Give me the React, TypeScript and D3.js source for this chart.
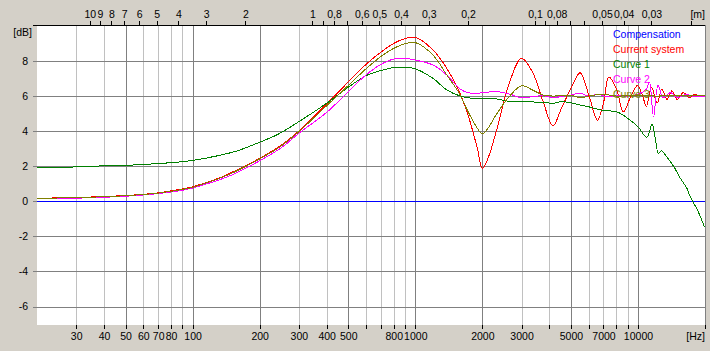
import React from "react";
import * as d3 from "d3";

// ---- data ----
const compF = [20, 20000];
const compDb = [0, 0];

const currentF = [20, 30, 40, 50, 60, 70, 80, 90, 100, 130, 150, 200, 250, 300, 400, 500, 600, 700, 800, 900, 1000, 1200, 1385, 1575, 1725, 1900, 2000, 2120, 2330, 2640, 3000, 3354, 3750, 4150, 4530, 5000, 5500, 6000, 6580, 7000, 7400, 8000, 8600, 9300, 9950, 10500, 10900, 11500, 12200, 12800, 13500, 14200, 15000, 16000, 17000, 18000, 19000, 20000];
const currentDb = [0.17, 0.22, 0.27, 0.33, 0.4, 0.48, 0.6, 0.7, 0.83, 1.3, 1.65, 2.45, 3.2, 4.0, 5.55, 6.8, 7.8, 8.5, 9.0, 9.28, 9.35, 8.63, 7.58, 6.25, 4.92, 3.02, 1.88, 2.45, 4.16, 6.73, 8.15, 7.39, 5.68, 4.3, 5.3, 6.44, 7.33, 6.1, 4.63, 5.6, 7.1, 6.4, 5.1, 6.0, 6.6, 6.0, 5.4, 6.5, 5.6, 6.4, 5.8, 6.3, 5.8, 6.2, 5.9, 6.1, 5.95, 6.05];

const curve1F = [20, 30, 35, 50, 70, 90, 100, 130, 158, 200, 240, 300, 400, 500, 600, 700, 800, 900, 1000, 1200, 1385, 1575, 1725, 2000, 2330, 2640, 3000, 3750, 4150, 4530, 5000, 5500, 6000, 7000, 8000, 9000, 10000, 10950, 11570, 12000, 12350, 12800, 13200, 14500, 15500, 16600, 17100, 18500, 19870];
const curve1Db = [1.94, 1.96, 2.0, 2.05, 2.15, 2.26, 2.33, 2.6, 2.87, 3.37, 3.8, 4.54, 5.59, 6.5, 7.16, 7.45, 7.62, 7.64, 7.55, 7.01, 6.35, 6.02, 5.9, 5.87, 5.83, 5.7, 5.68, 5.64, 5.59, 5.68, 5.62, 5.49, 5.39, 5.17, 5.11, 4.73, 4.25, 3.65, 4.39, 3.49, 2.74, 2.88, 2.68, 1.97, 1.31, 0.74, 0.3, -0.5, -1.45];

const curve2F = [20, 30, 40, 50, 60, 70, 80, 90, 100, 130, 150, 200, 250, 300, 400, 500, 600, 700, 800, 900, 1000, 1200, 1385, 1575, 1725, 1900, 2000, 2330, 2640, 3000, 3354, 3750, 4150, 4530, 5000, 5500, 6000, 6600, 7300, 8000, 9000, 10000, 10900, 11250, 11750, 12300, 13000, 14000, 15000, 16500, 18000, 20000];
const curve2Db = [0.15, 0.18, 0.23, 0.29, 0.36, 0.44, 0.53, 0.63, 0.76, 1.2, 1.5, 2.31, 3.05, 3.88, 5.07, 6.25, 7.2, 7.8, 8.11, 8.15, 8.05, 7.77, 7.2, 6.44, 6.19, 6.16, 6.19, 6.25, 6.12, 5.9, 5.96, 6.02, 5.9, 5.98, 6.06, 6.16, 6.0, 6.1, 5.95, 6.05, 6.0, 6.1, 6.4, 6.8, 4.82, 6.6, 5.9, 6.2, 5.9, 6.1, 5.95, 6.0];

const curve3F = [20, 30, 40, 50, 60, 70, 80, 90, 100, 130, 150, 200, 250, 300, 400, 500, 600, 700, 800, 900, 1000, 1200, 1385, 1575, 1725, 1900, 2000, 2120, 2330, 2640, 3000, 3354, 3750, 4150, 5000, 5500, 6000, 7000, 8000, 10000, 12000, 15000, 20000];
const curve3Db = [0.17, 0.21, 0.26, 0.32, 0.39, 0.47, 0.57, 0.68, 0.8, 1.28, 1.6, 2.42, 3.15, 3.97, 5.45, 6.6, 7.55, 8.25, 8.72, 8.98, 9.05, 8.34, 7.2, 6.16, 5.11, 4.16, 3.84, 4.16, 5.02, 5.96, 6.59, 6.35, 6.06, 6.0, 6.05, 5.9, 6.0, 6.1, 6.0, 6.05, 6.0, 6.05, 6.05];

const seriesNames = ["Compensation", "Current system", "Curve 1", "Curve 2", "Curve 3"];
const seriesColors = ["#0000ff", "#ff0000", "#008000", "#ff00ff", "#808000"];

const yTicks = [-6, -4, -2, 0, 2, 4, 6, 8];
const freqTicks = [30, 40, 50, 60, 70, 80, 90, 100, 200, 300, 400, 500, 600, 700, 800, 900, 1000, 2000, 3000, 4000, 5000, 6000, 7000, 8000, 9000, 10000, 20000];
const freqLabels = [30, 40, 50, 60, 70, 80, 100, 200, 300, 400, 500, 800, 1000, 2000, 3000, 5000, 7000, 10000];
const majorFreqs = [50, 100, 200, 500, 1000, 2000, 5000, 10000, 20000];
const meterTicks = [10, 9, 8, 7, 6, 5, 4, 3, 2, 1, 0.9, 0.8, 0.7, 0.6, 0.5, 0.4, 0.3, 0.2, 0.1, 0.09, 0.08, 0.07, 0.06, 0.05, 0.04, 0.03, 0.02];
const meterLabels = [10, 9, 8, 7, 6, 5, 4, 3, 2, 1, 0.8, 0.6, 0.5, 0.4, 0.3, 0.2, 0.1, 0.08, 0.05, 0.04, 0.03];
const SOUND_SPEED = 345;

export default function App() {
  const W = 710, H = 351;
  const L = 37, R = 705, T = 25, B = 325;
  const x = d3.scaleLog().domain([20, 20000]).range([L, R]);
  const y = d3.scaleLinear().domain([-7.05, 10.05]).range([B, T]);
  const font = "'Liberation Sans', Arial, sans-serif";
  const fs = 10.5;

  const series = [
    [compF, compDb],
    [currentF, currentDb],
    [curve1F, curve1Db],
    [curve2F, curve2Db],
    [curve3F, curve3Db],
  ];
  const line = d3
    .line<[number, number]>()
    .x((d) => x(d[0]))
    .y((d) => y(d[1]))
    .curve(d3.curveCatmullRom.alpha(0.5));

  const fmtM = (m: number) => String(m).replace(".", ",");

  return (
    <svg width={W} height={H} style={{ position: "absolute", left: 0, top: 0 }} fontFamily={font} fontSize={fs}>
      <rect x={0} y={0} width={W} height={H} fill="#d4d0c8" />
      <rect x={L} y={T} width={R - L} height={B - T} fill="#ffffff" />
      <defs>
        <clipPath id="plotclip">
          <rect x={L} y={T} width={R - L + 1} height={B - T} />
        </clipPath>
      </defs>
      {/* vertical grid */}
      {freqTicks.map((f) => (
        <line key={"vg" + f} x1={Math.round(x(f)) + 0.5} x2={Math.round(x(f)) + 0.5} y1={T} y2={B}
          stroke={majorFreqs.includes(f) ? "#808080" : "#c0c0c0"} shapeRendering="crispEdges" />
      ))}
      {/* horizontal grid */}
      {yTicks.map((v) => (
        <line key={"hg" + v} x1={L - 4} x2={R} y1={Math.round(y(v)) + 0.5} y2={Math.round(y(v)) + 0.5}
          stroke="#808080" shapeRendering="crispEdges" />
      ))}
      {/* top border */}
      <line x1={L - 4} x2={R} y1={T + 0.5} y2={T + 0.5} stroke="#000" shapeRendering="crispEdges" />
      {/* curves */}
      <g clipPath="url(#plotclip)">
        {series.map(([fs_, db], i) => (
          <path key={"s" + i}
            d={line((fs_ as number[]).map((f, j) => [f, (db as number[])[j]]) as [number, number][]) || ""}
            fill="none" stroke={seriesColors[i]} strokeWidth={1} shapeRendering="crispEdges" />
        ))}
      </g>
      {/* y labels */}
      {yTicks.map((v) => (
        <text key={"yl" + v} x={28} y={y(v)} dy="0.36em" textAnchor="end" fill="#000">{v}</text>
      ))}
      <text x={32} y={36} textAnchor="end" fill="#000">[dB]</text>
      {/* bottom ticks */}
      {freqTicks.map((f) => (
        <line key={"bt" + f} x1={Math.round(x(f)) + 0.5} x2={Math.round(x(f)) + 0.5} y1={B} y2={B + 4}
          stroke="#000" shapeRendering="crispEdges" />
      ))}
      {freqLabels.map((f) => (
        <text key={"bl" + f} x={x(f) + 0.5} y={340} textAnchor="middle" fill="#000">{f}</text>
      ))}
      <text x={705} y={340} textAnchor="end" fill="#000">[Hz]</text>
      {/* top ticks */}
      {meterTicks.map((m) => {
        const px = Math.round(x(SOUND_SPEED / m)) + 0.5;
        return <line key={"tt" + m} x1={px} x2={px} y1={T - 4} y2={T} stroke="#000" shapeRendering="crispEdges" />;
      })}
      {meterLabels.map((m) => (
        <text key={"tl" + m} x={x(SOUND_SPEED / m) + 0.5} y={18} textAnchor="middle" fill="#000">{fmtM(m)}</text>
      ))}
      <text x={705} y={18} textAnchor="end" fill="#000">[m]</text>
      {/* legend */}
      {seriesNames.map((n, i) => (
        <text key={"lg" + n} x={613} y={38 + i * 15} fill={seriesColors[i]}>{n}</text>
      ))}
    </svg>
  );
}
